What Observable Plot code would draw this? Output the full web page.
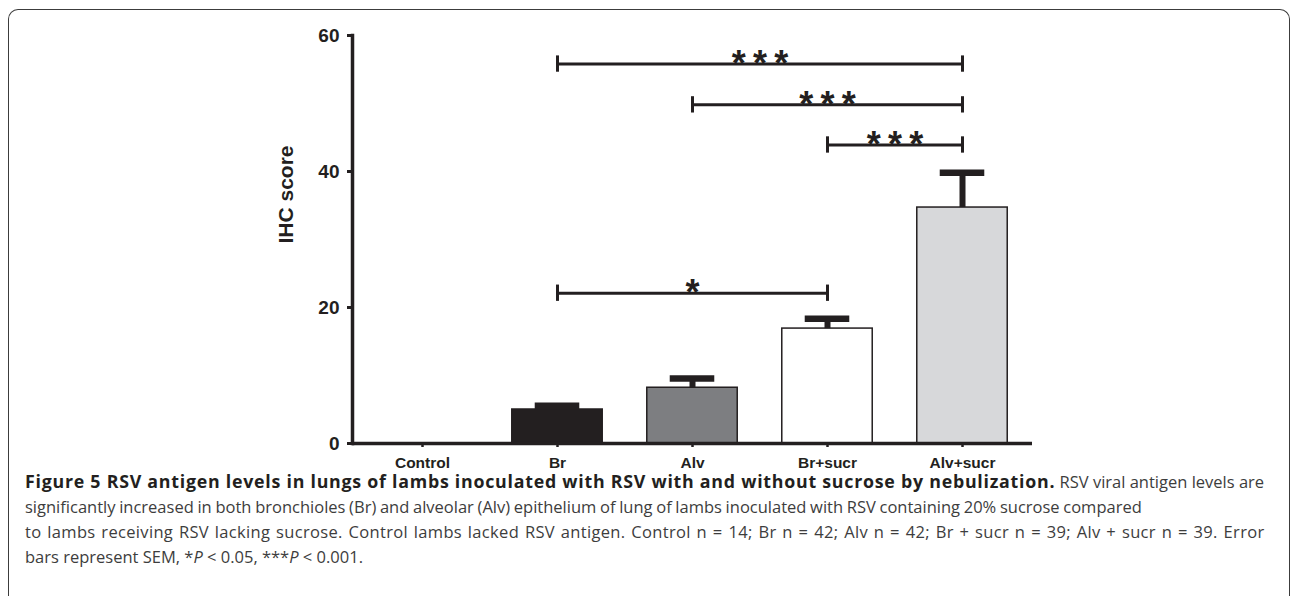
<!DOCTYPE html>
<html><head><meta charset="utf-8">
<script src="https://cdn.jsdelivr.net/npm/d3@7"></script>
<script src="https://cdn.jsdelivr.net/npm/@observablehq/plot@0.6"></script>
<style>
body{margin:0;background:#fff;width:1292px;height:596px;overflow:hidden;position:relative;}
#frame{position:absolute;left:8px;top:9px;width:1282px;height:640px;border:1.5px solid #3c3c3c;border-bottom:none;border-radius:10px 10px 0 0;box-sizing:border-box;}
#chart{position:absolute;left:0;top:0;}
#caption{position:absolute;left:25px;top:469px;font-family:"Open Sans";font-size:16.5px;line-height:25px;color:#3d3d3d;white-space:nowrap;}
#caption b{color:#231f20;font-size:17.8px;letter-spacing:0.75px;}
#caption div{height:25px;line-height:25px;}
#l2{word-spacing:-0.6px;}
#l3{word-spacing:1.2px;letter-spacing:0.33px;}
</style></head><body>
<div id="frame"></div>
<div id="chart"></div>
<div id="caption">
<div id="l1"><b>Figure 5 RSV antigen levels in lungs of lambs inoculated with RSV with and without sucrose by nebulization.</b> RSV viral antigen levels are</div>
<div id="l2">significantly increased in both bronchioles (Br) and alveolar (Alv) epithelium of lung of lambs inoculated with RSV containing 20% sucrose compared</div>
<div id="l3">to lambs receiving RSV lacking sucrose. Control lambs lacked RSV antigen. Control n = 14; Br n = 42; Alv n = 42; Br + sucr n = 39; Alv + sucr n = 39. Error</div>
<div id="l4">bars represent SEM, *<i>P</i> &lt; 0.05, ***<i>P</i> &lt; 0.001.</div>
</div>
<script>
const categories = ["Control", "Br", "Alv", "Br+sucr", "Alv+sucr"];
const means = [0, 5.0, 8.2, 16.9, 34.7];
const sems = [0, 0.55, 1.35, 1.45, 5.1];
const fills = ["#ffffff", "#231f20", "#7d7e81", "#ffffff", "#d7d8da"];
const yTicks = [0, 20, 40, 60];
const sigFrom = ["Br", "Alv", "Br+sucr", "Br"];
const sigTo = ["Alv+sucr", "Alv+sucr", "Alv+sucr", "Br+sucr"];
const sigY = [55.8, 49.8, 43.9, 22.1];
const sigLabel = ["*\u2009*\u2009*", "*\u2009*\u2009*", "*\u2009*\u2009*", "*"];

const ink = "#231f20";
const halfBar = 0.335, halfCap = 0.165, tickHalf = 1.2;
const bars = categories.map((c, i) => ({c, i, mean: means[i], sem: sems[i], fill: fills[i]})).filter(d => d.mean > 0);
const sig = sigFrom.map((f, k) => ({a: categories.indexOf(f), b: categories.indexOf(sigTo[k]), y: sigY[k], label: sigLabel[k]}));
const ends = sig.flatMap(s => [{x: s.a, y: s.y}, {x: s.b, y: s.y}]);

const plot = Plot.plot({
  width: 1292, height: 475,
  marginLeft: 352, marginRight: 260, marginTop: 35, marginBottom: 32,
  style: {fontFamily: "'Liberation Sans', Arial, sans-serif", fontWeight: "bold", color: ink, background: "transparent"},
  x: {domain: [-0.5185, 4.5185], axis: null},
  y: {domain: [0, 60], axis: null},
  marks: [
    Plot.rect(bars, {x1: d => d.i - halfBar, x2: d => d.i + halfBar, y1: 0, y2: "mean", fill: "fill", stroke: ink, strokeWidth: 1.5}),
    Plot.ruleX(bars, {x: "i", y1: "mean", y2: d => d.mean + d.sem, stroke: ink, strokeWidth: 6}),
    Plot.ruleY(bars, {y: d => d.mean + d.sem, x1: d => d.i - halfCap, x2: d => d.i + halfCap, stroke: ink, strokeWidth: 6.5}),
    Plot.ruleY(sig, {y: "y", x1: "a", x2: "b", stroke: ink, strokeWidth: 3}),
    Plot.ruleX(ends, {x: "x", y1: d => d.y - tickHalf, y2: d => d.y + tickHalf, stroke: ink, strokeWidth: 3}),
    Plot.text(sig, {x: d => (d.a + d.b) / 2, y: "y", text: "label", fontSize: 36, lineAnchor: "bottom", dy: 12, fill: ink}),
    Plot.axisX({ticks: [0, 1, 2, 3, 4], tickFormat: i => categories[i], tickSize: 4, tickPadding: 9, fontSize: 15.5, strokeWidth: 2.5, stroke: ink, fill: ink, label: null}),
    Plot.axisY({ticks: yTicks, tickSize: 5, tickPadding: 8, fontSize: 19, strokeWidth: 3, stroke: ink, fill: ink, label: null}),
    Plot.frame({anchor: "left", stroke: ink, strokeWidth: 3.5}),
    Plot.ruleY([0], {stroke: ink, strokeWidth: 3.5}),
    Plot.text(["IHC score"], {frameAnchor: "left", dx: -66, dy: 4, rotate: -90, fontSize: 21, fill: ink})
  ]
});
document.getElementById("chart").append(plot);
</script>
</body></html>
